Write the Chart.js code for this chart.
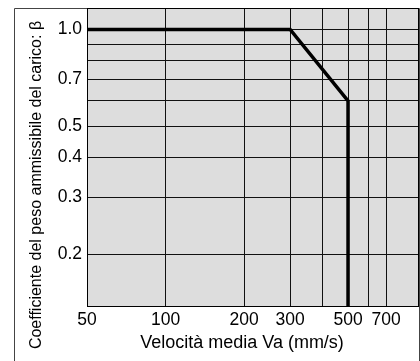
<!DOCTYPE html>
<html>
<head>
<meta charset="utf-8">
<script src="https://cdn.jsdelivr.net/npm/chart.js@4"></script>
<style>
  html, body { margin: 0; padding: 0; background: #fff; }
  #wrap { width: 420px; height: 361px; }
</style>
</head>
<body>
<div id="wrap"><canvas id="myChart" width="420" height="361"></canvas></div>
<script>
// curve: velocity (mm/s) vs load coefficient
const speed = [50, 300, 500, 500];
const beta = [1.0, 1.0, 0.6, 0.138];

// axis ranges
const xMin = 50, xMax = 935;
const yMin = 0.138, yMax = 1.166;

// grid lines and labelled ticks
const xGrid = [50, 100, 200, 300, 400, 500, 600, 700];
const xLabels = [50, 100, 200, 300, 500, 700];
const yGrid = [0.2, 0.3, 0.4, 0.5, 0.6, 0.7, 0.8, 0.9, 1.0];
const yLabels = [0.2, 0.3, 0.4, 0.5, 0.7, 1.0];

const xTitle = 'Velocità media Va (mm/s)';
const yTitle = 'Coefficiente del peso ammissibile del carico: β';

const FONT = '"Liberation Sans", Arial, sans-serif';

const framePlugin = {
  id: 'frame',
  beforeDraw(chart) {
    const {ctx, chartArea: a} = chart;
    ctx.save();
    ctx.fillStyle = '#dddddd';
    ctx.fillRect(a.left, a.top, a.right - a.left, a.bottom - a.top);
    ctx.restore();
  },
  afterDraw(chart) {
    const {ctx, chartArea: a} = chart;
    ctx.save();
    // outer frame
    ctx.strokeStyle = '#444';
    ctx.lineWidth = 1;
    ctx.beginPath();
    ctx.moveTo(14.5, 361);
    ctx.lineTo(14.5, 8.5);
    ctx.lineTo(419.5, 8.5);
    ctx.lineTo(419.5, 361);
    ctx.stroke();
    // plot border
    ctx.strokeStyle = '#000';
    ctx.strokeRect(a.left + 0.5, a.top + 0.5, a.right - a.left - 1, a.bottom - a.top);
    // titles
    ctx.fillStyle = '#000';
    ctx.font = '18px ' + FONT;
    ctx.textAlign = 'center';
    ctx.textBaseline = 'alphabetic';
    ctx.fillText(xTitle, 242, 348);
    ctx.font = '16px ' + FONT;
    ctx.translate(41, 185);
    ctx.rotate(-Math.PI / 2);
    ctx.fillText(yTitle, 0, 0);
    ctx.restore();
  }
};

const ctx = document.getElementById('myChart').getContext('2d');

const chart = new Chart(ctx, {
  type: 'scatter',
  data: {
    datasets: [{
      data: speed.map((v, i) => ({x: v, y: beta[i]})),
      showLine: true,
      borderColor: '#000',
      borderWidth: 3.5,
      pointRadius: 0,
      tension: 0,
    }]
  },
  options: {
    responsive: false,
    animation: false,
    layout: { padding: { top: 8, right: 1, left: 0, bottom: 0 } },
    plugins: {
      legend: { display: false },
      tooltip: { enabled: false },
    },
    scales: {
      x: {
        type: 'logarithmic',
        min: xMin,
        max: xMax,
        afterBuildTicks: (scale) => { scale.ticks = xGrid.map(v => ({value: v})); },
        afterFit: (scale) => {
          scale.height = 55;
          scale.paddingLeft = 0;
          scale.paddingRight = 0;
        },
        grid: {
          color: (c) => (c.tick && c.tick.value === 50 ? 'rgba(0,0,0,0)' : '#111'),
          lineWidth: 1,
          drawTicks: false,
        },
        border: { display: false },
        ticks: {
          autoSkip: false,
          maxRotation: 0,
          padding: 4,
          color: '#000',
          font: { family: FONT, size: 17.5 },
          callback: (v) => (xLabels.includes(v) ? String(v) : ''),
        },
      },
      y: {
        type: 'logarithmic',
        min: yMin,
        max: yMax,
        afterBuildTicks: (scale) => { scale.ticks = yGrid.map(v => ({value: v})); },
        afterFit: (scale) => {
          scale.width = 87;
          scale.paddingTop = 0;
          scale.paddingBottom = 0;
        },
        grid: {
          color: '#111',
          lineWidth: 1,
          drawTicks: false,
        },
        border: { display: false },
        ticks: {
          autoSkip: false,
          padding: 5,
          color: '#000',
          font: { family: FONT, size: 17.5 },
          callback: (v) => (yLabels.some(l => Math.abs(l - v) < 1e-9) ? v.toFixed(1) : ''),
        },
      }
    }
  },
  plugins: [framePlugin]
});
</script>
</body>
</html>
